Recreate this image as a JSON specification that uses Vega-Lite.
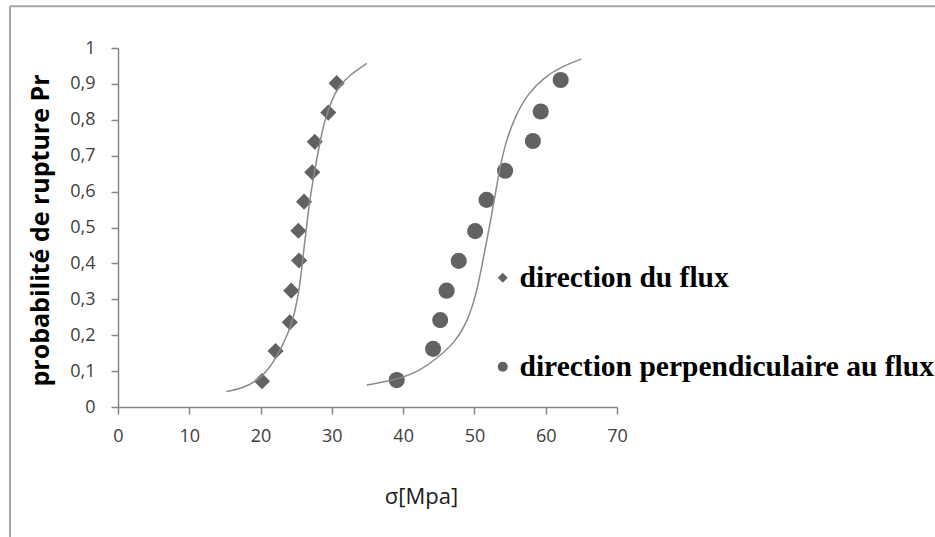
{
  "$schema": "https://vega.github.io/schema/vega-lite/v6.json",
  "autosize": {"type": "none"},
  "width": 499,
  "height": 359,
  "padding": {"left": 118, "top": 48, "right": 318, "bottom": 130},
  "background": "white",
  "config": {
    "view": {"stroke": null},
    "locale": {"number": {"decimal": ",", "thousands": " ", "grouping": [3], "currency": ["", " €"]}},
    "axis": {
      "grid": false,
      "domainColor": "#868686",
      "domainWidth": 1.5,
      "tickColor": "#868686",
      "tickWidth": 1.5,
      "tickSize": 7,
      "tickCount": 30,
      "labelFont": "Open Sans",
      "labelFontSize": 18,
      "labelColor": "#404040",
      "labelOverlap": false,
      "labelFlush": false,
      "labelBound": false,
      "titleAnchor": null,
      "titleAlign": "center",
      "titleBaseline": "alphabetic"
    },
    "axisX": {
      "labelPadding": 13,
      "titleFont": "Open Sans",
      "titleFontSize": 22,
      "titleFontWeight": "normal",
      "titleColor": "#202020",
      "titleX": 303,
      "titleY": 96
    },
    "axisY": {
      "labelPadding": 16,
      "titleFont": "Open Sans",
      "titleFontSize": 25,
      "titleFontWeight": "bold",
      "titleColor": "#000000",
      "titleAngle": -90,
      "titleX": -70,
      "titleY": 182
    }
  },
  "datasets": {
    "points": [
      {"sigma": 20.2, "P": 0.072, "serie": "direction du flux"},
      {"sigma": 22.1, "P": 0.156, "serie": "direction du flux"},
      {"sigma": 24.1, "P": 0.236, "serie": "direction du flux"},
      {"sigma": 24.3, "P": 0.324, "serie": "direction du flux"},
      {"sigma": 25.4, "P": 0.408, "serie": "direction du flux"},
      {"sigma": 25.3, "P": 0.491, "serie": "direction du flux"},
      {"sigma": 26.1, "P": 0.572, "serie": "direction du flux"},
      {"sigma": 27.25, "P": 0.654, "serie": "direction du flux"},
      {"sigma": 27.6, "P": 0.739, "serie": "direction du flux"},
      {"sigma": 29.5, "P": 0.82, "serie": "direction du flux"},
      {"sigma": 30.67, "P": 0.902, "serie": "direction du flux"},
      {"sigma": 39.1, "P": 0.075, "serie": "direction perpendiculaire au flux"},
      {"sigma": 44.2, "P": 0.162, "serie": "direction perpendiculaire au flux"},
      {"sigma": 45.2, "P": 0.242, "serie": "direction perpendiculaire au flux"},
      {"sigma": 46.1, "P": 0.324, "serie": "direction perpendiculaire au flux"},
      {"sigma": 47.8, "P": 0.407, "serie": "direction perpendiculaire au flux"},
      {"sigma": 50.1, "P": 0.49, "serie": "direction perpendiculaire au flux"},
      {"sigma": 51.7, "P": 0.577, "serie": "direction perpendiculaire au flux"},
      {"sigma": 54.3, "P": 0.658, "serie": "direction perpendiculaire au flux"},
      {"sigma": 58.2, "P": 0.741, "serie": "direction perpendiculaire au flux"},
      {"sigma": 59.3, "P": 0.823, "serie": "direction perpendiculaire au flux"},
      {"sigma": 62.1, "P": 0.911, "serie": "direction perpendiculaire au flux"}
    ],
    "curves": [
      {"sigma": 15.2, "P": 0.043, "courbe": "A"},
      {"sigma": 17.6, "P": 0.052, "courbe": "A"},
      {"sigma": 20.4, "P": 0.084, "courbe": "A"},
      {"sigma": 22.3, "P": 0.14, "courbe": "A"},
      {"sigma": 23.9, "P": 0.205, "courbe": "A"},
      {"sigma": 24.8, "P": 0.261, "courbe": "A"},
      {"sigma": 25.5, "P": 0.335, "courbe": "A"},
      {"sigma": 26.0, "P": 0.428, "courbe": "A"},
      {"sigma": 26.5, "P": 0.51, "courbe": "A"},
      {"sigma": 26.9, "P": 0.577, "courbe": "A"},
      {"sigma": 27.6, "P": 0.66, "courbe": "A"},
      {"sigma": 28.3, "P": 0.735, "courbe": "A"},
      {"sigma": 29.0, "P": 0.8, "courbe": "A"},
      {"sigma": 30.0, "P": 0.855, "courbe": "A"},
      {"sigma": 30.9, "P": 0.892, "courbe": "A"},
      {"sigma": 32.5, "P": 0.925, "courbe": "A"},
      {"sigma": 34.9, "P": 0.957, "courbe": "A"},
      {"sigma": 34.9, "P": 0.061, "courbe": "B"},
      {"sigma": 38.8, "P": 0.075, "courbe": "B"},
      {"sigma": 41.7, "P": 0.094, "courbe": "B"},
      {"sigma": 44.5, "P": 0.131, "courbe": "B"},
      {"sigma": 47.3, "P": 0.18, "courbe": "B"},
      {"sigma": 49.1, "P": 0.242, "courbe": "B"},
      {"sigma": 50.3, "P": 0.317, "courbe": "B"},
      {"sigma": 51.2, "P": 0.409, "courbe": "B"},
      {"sigma": 52.2, "P": 0.51, "courbe": "B"},
      {"sigma": 53.1, "P": 0.614, "courbe": "B"},
      {"sigma": 53.8, "P": 0.688, "courbe": "B"},
      {"sigma": 54.5, "P": 0.744, "courbe": "B"},
      {"sigma": 55.7, "P": 0.809, "courbe": "B"},
      {"sigma": 57.5, "P": 0.874, "courbe": "B"},
      {"sigma": 59.9, "P": 0.92, "courbe": "B"},
      {"sigma": 62.2, "P": 0.948, "courbe": "B"},
      {"sigma": 65.0, "P": 0.969, "courbe": "B"}
    ]
  },
  "layer": [
    {
      "data": {"name": "points"},
      "mark": {"type": "point", "filled": true, "opacity": 1, "color": "#626262", "size": 260},
      "encoding": {
        "x": {
          "field": "sigma", "type": "quantitative",
          "scale": {"domain": [0, 70], "nice": false, "zero": false},
          "axis": {"values": [0, 10, 20, 30, 40, 50, 60, 70], "title": "σ[Mpa]", "labelOverlap": false, "tickCount": 30}
        },
        "y": {
          "field": "P", "type": "quantitative",
          "scale": {"domain": [0, 1], "nice": false, "zero": false},
          "axis": {
            "values": [0, 0.1, 0.2, 0.3, 0.4, 0.5, 0.6, 0.7, 0.8, 0.9, 1],
            "format": ".1~f",
            "tickCount": 30,
            "title": "probabilité de rupture Pr",
            "labelOverlap": false
          }
        },
        "shape": {
          "field": "serie", "type": "nominal",
          "scale": {"domain": ["direction du flux", "direction perpendiculaire au flux"], "range": ["diamond", "circle"]},
          "legend": {
            "title": null,
            "orient": "none",
            "legendX": 370,
            "legendY": 215,
            "padding": 0,
            "labelFont": "Liberation Serif",
            "labelFontWeight": "bold",
            "labelFontSize": 29.5,
            "labelColor": "#000000",
            "labelLimit": 600,
            "labelOffset": 2,
            "symbolSize": 100,
            "symbolFillColor": "#6e6e6e",
            "symbolStrokeColor": "#6e6e6e",
            "symbolStrokeWidth": 0,
            "symbolOpacity": 1,
            "rowPadding": 58
          }
        }
      }
    },
    {
      "data": {"name": "curves"},
      "mark": {"type": "line", "interpolate": "basis", "color": "#8a8a8a", "strokeWidth": 1.5},
      "encoding": {
        "x": {"field": "sigma", "type": "quantitative"},
        "y": {"field": "P", "type": "quantitative"},
        "detail": {"field": "courbe"},
        "order": {"field": "sigma"}
      }
    },
    {
      "data": {"values": [{}]},
      "mark": {"type": "rule", "color": "#a6a6a6", "strokeWidth": 2, "clip": false},
      "encoding": {
        "x": {"datum": -15.15, "type": "quantitative"},
        "y": {"datum": 1.116, "type": "quantitative"},
        "y2": {"datum": -0.5}
      }
    },
    {
      "data": {"values": [{}]},
      "mark": {"type": "rule", "color": "#a6a6a6", "strokeWidth": 2, "clip": false},
      "encoding": {
        "y": {"datum": 1.116, "type": "quantitative"},
        "x": {"datum": -15.15, "type": "quantitative"},
        "x2": {"datum": 120}
      }
    }
  ]
}
